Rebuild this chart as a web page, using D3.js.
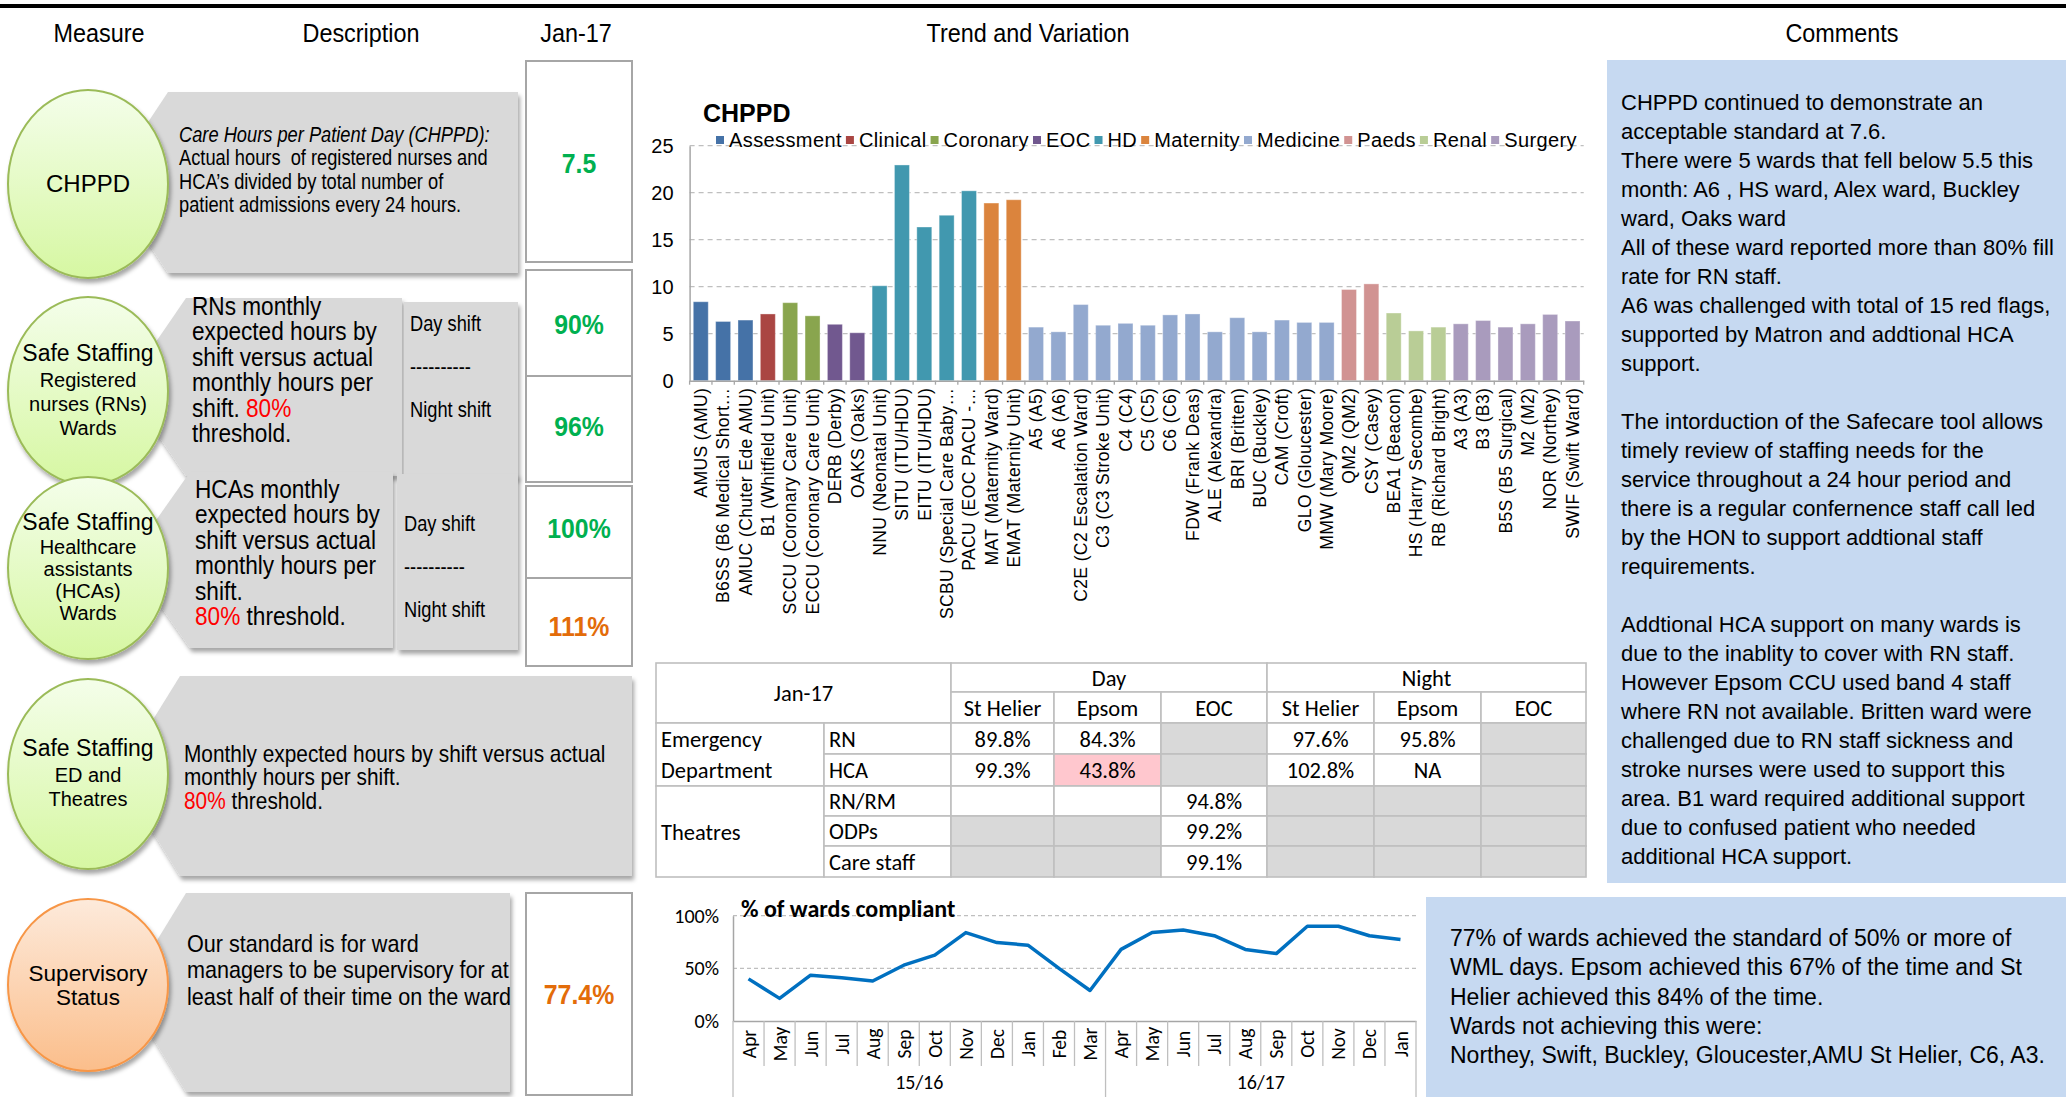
<!DOCTYPE html>
<html><head><meta charset="utf-8">
<script src="https://cdn.jsdelivr.net/npm/d3@7"></script>
<style>body{margin:0;background:#fff}svg{display:block}text{white-space:pre}</style>
</head><body>
<svg id="c" width="2066" height="1097"></svg>
<script>
// ---------------- DATA ----------------
const headerLabels = ["Measure", "Description", "Jan-17", "Trend and Variation", "Comments"];

const groups = ["Assessment","Clinical","Coronary","EOC","HD","Maternity","Medicine","Paeds","Renal","Surgery"];
const groupColors = ["#4572A7","#AA4643","#89A54E","#71588F","#4198AF","#DB843D","#93A9CF","#D19392","#B9CD96","#A99BBD"];
const wards = ["AMUS (AMU)","B6SS (B6 Medical Short…","AMUC (Chuter Ede AMU)","B1 (Whitfield Unit)","SCCU (Coronary Care Unit)","ECCU (Coronary Care Unit)","DERB (Derby)","OAKS (Oaks)","NNU (Neonatal Unit)","SITU (ITU/HDU)","EITU (ITU/HDU)","SCBU (Special Care Baby…","PACU (EOC PACU -…","MAT (Maternity Ward)","EMAT (Maternity Unit)","A5 (A5)","A6 (A6)","C2E (C2 Escalation Ward)","C3 (C3 Stroke Unit)","C4 (C4)","C5 (C5)","C6 (C6)","FDW (Frank Deas)","ALE (Alexandra)","BRI (Britten)","BUC (Buckley)","CAM (Croft)","GLO (Gloucester)","MMW (Mary Moore)","QM2 (QM2)","CSY (Casey)","BEA1 (Beacon)","HS (Harry Secombe)","RB (Richard Bright)","A3 (A3)","B3 (B3)","B5S (B5 Surgical)","M2 (M2)","NOR (Northey)","SWIF (Swift Ward)"];
const wardGroup = ["Assessment","Assessment","Assessment","Clinical","Coronary","Coronary","EOC","EOC","HD","HD","HD","HD","HD","Maternity","Maternity","Medicine","Medicine","Medicine","Medicine","Medicine","Medicine","Medicine","Medicine","Medicine","Medicine","Medicine","Medicine","Medicine","Medicine","Paeds","Paeds","Renal","Renal","Renal","Surgery","Surgery","Surgery","Surgery","Surgery","Surgery"];
const chppd = [8.4,6.3,6.45,7.1,8.3,6.9,6.0,5.1,10.1,22.95,16.35,17.6,20.2,18.9,19.25,5.7,5.2,8.1,5.9,6.1,5.9,7.0,7.1,5.2,6.7,5.2,6.45,6.2,6.2,9.7,10.3,7.2,5.3,5.7,6.05,6.4,5.7,6.05,7.05,6.35];
const chppdTicks = [0,5,10,15,20,25];

const months = ["Apr","May","Jun","Jul","Aug","Sep","Oct","Nov","Dec","Jan","Feb","Mar","Apr","May","Jun","Jul","Aug","Sep","Oct","Nov","Dec","Jan"];
const finYears = ["15/16","16/17"];
const monthsPerYear = [12, 10];
const compliance = [40,21.5,43.5,41,38,53,62.5,84,74.5,72,50,29,68,84,86.5,81,68,64,90,90,81,77.4];
const complianceTicks = [0,50,100];

const tblTitle = "Jan-17";
const shifts = ["Day","Night"];
const sites = ["St Helier","Epsom","EOC"];
const edRoles = ["RN","HCA"];
const edValues = [[89.8,84.3,null,97.6,95.8,null],[99.3,43.8,null,102.8,"NA",null]];
const thRoles = ["RN/RM","ODPs","Care staff"];
const thValues = [["","",94.8,null,null,null],[null,null,99.2,null,null,null],[null,null,99.1,null,null,null]];

const measures = [["CHPPD"],["Safe Staffing","Registered","nurses (RNs)","Wards"],["Safe Staffing","Healthcare","assistants","(HCAs)","Wards"],["Safe Staffing","ED and","Theatres"],["Supervisory","Status"]];
const descChppd = [[["Care Hours per Patient Day (CHPPD):",0,1]],[["Actual hours  of registered nurses and"]],[["HCA’s divided by total number of"]],[["patient admissions every 24 hours."]]];
const descRN = [[["RNs monthly"]],[["expected hours by"]],[["shift versus actual"]],[["monthly hours per"]],[["shift. "],["80%",1]],[["threshold."]]];
const descHCA = [[["HCAs monthly"]],[["expected hours by"]],[["shift versus actual"]],[["monthly hours per"]],[["shift."]],[["80%",1],[" threshold."]]];
const descED = [[["Monthly expected hours by shift versus actual"]],[["monthly hours per shift."]],[["80%",1],[" threshold."]]];
const descSup = [[["Our standard is for ward"]],[["managers to be supervisory for at"]],[["least half of their time on the ward"]]];
const shiftLabels = ["Day shift","----------","Night shift"];
const kpiValues = ["7.5","90%","96%","100%","111%","77.4%"];
const kpiStatus = ["good","good","good","good","over","over"];

const comment1 = ["CHPPD continued to demonstrate an","acceptable standard at 7.6.","There were 5 wards that fell below 5.5 this","month: A6 , HS ward, Alex ward, Buckley","ward, Oaks ward","All of these ward reported more than 80% fill","rate for RN staff.","A6 was challenged with total of 15 red flags,","supported by Matron and addtional HCA","support.","","The intorduction of the Safecare tool allows","timely review of staffing needs for the","service throughout a 24 hour period and","there is a regular confernence staff call led","by the HON to support addtional staff","requirements.","","Addtional HCA support on many wards is","due to the inablity to cover with RN staff.","However Epsom CCU used band 4 staff","where RN not available. Britten ward were","challenged due to RN staff sickness and","stroke nurses were used to support this","area. B1 ward required additional support","due to confused patient who needed","additional HCA support."];
const comment2 = ["77% of wards achieved the standard of 50% or more of","WML days. Epsom achieved this 67% of the time and St","Helier achieved this 84% of the time.","Wards not achieving this were:","Northey, Swift, Buckley, Gloucester,AMU St Helier, C6, A3."];

// ---------------- DRAWING ----------------
const ARIAL = "'Liberation Sans',Arial,Helvetica,sans-serif";
const CAL = "Carlito,Lato,sans-serif";
const svg = d3.select("#c");
svg.append("rect").attr("width",2066).attr("height",1097).attr("fill","#fff");

const defs = svg.append("defs");
const f = defs.append("filter").attr("id","shadow").attr("x","-10%").attr("y","-10%").attr("width","130%").attr("height","130%");
f.append("feDropShadow").attr("dx",2).attr("dy",4).attr("stdDeviation",2.2).attr("flood-color","#000").attr("flood-opacity",0.35);
function grad(id,c1,c2){const g=defs.append("linearGradient").attr("id",id).attr("x1",0).attr("y1",0).attr("x2",0).attr("y2",1);
  g.append("stop").attr("offset","0%").attr("stop-color",c1);g.append("stop").attr("offset","100%").attr("stop-color",c2);}
grad("gGreen","#F4FEEA","#D6F7A2");
grad("gOrange","#FDEADB","#FBBE8B");

// helpers: condensed text = Arial scaled horizontally (Arial Narrow look)
function lines(g, data, x, y0, dy, size, sx, anchor){
  const w = g.append("g").attr("transform",`translate(${x},0) scale(${sx||1},1)`);
  const t = w.append("text").attr("font-family",ARIAL).attr("font-size",size).attr("text-anchor",anchor||"start");
  data.forEach((ln,i)=>{
    ln.forEach((seg,j)=>{
      const ts = t.append("tspan").text(seg[0]);
      if(j===0) ts.attr("x",0).attr("y",y0+i*dy);
      if(seg[1]) ts.attr("fill","#FF0000");
      if(seg[2]) ts.attr("font-style","italic");
    });
  });
  return t;
}

// header
svg.append("rect").attr("x",0).attr("y",4).attr("width",2066).attr("height",4).attr("fill","#000");
const headerX = [99, 361, 576, 1028, 1842];
headerLabels.forEach((h,i)=>lines(svg,[[[h]]],headerX[i],42,0,26,0.9,"middle"));

function chevron(g, xp, xl, xr, yt, yb){
  g.append("path").attr("d",`M${xl},${yt}L${xr},${yt}L${xr},${yb}L${xl},${yb}L${xp},${(yt+yb)/2}Z`)
   .attr("fill","#D9D9D9").attr("filter","url(#shadow)");
}
function rectBox(g,x0,x1,y0,y1){
  g.append("rect").attr("x",x0).attr("y",y0).attr("width",x1-x0).attr("height",y1-y0).attr("fill","#D9D9D9").attr("filter","url(#shadow)");
}
function circle(g, cy, ry, labels, orange){
  g.append("ellipse").attr("cx",88).attr("cy",cy).attr("rx",80).attr("ry",ry)
   .attr("fill",orange?"url(#gOrange)":"url(#gGreen)").attr("stroke",orange?"#F79646":"#9BBB59").attr("stroke-width",2).attr("filter","url(#shadow)");
  const n = labels.length;
  const t = g.append("text").attr("font-family",ARIAL).attr("text-anchor","middle");
  labels.forEach((l,i)=>{
    const big = (i===0);
    const size = n===1?24 : (n===2?22.5 : (big?23:20));
    const yy = n===1 ? cy+8 : (n===2 ? cy + (i-0.5)*24 + 8 : cy + (i-(n-1)/2)*(n>4?22:24)+8 - (i===0?2:0));
    t.append("tspan").attr("x",88).attr("y",yy).attr("font-size",size).text(l);
  });
}
function valBox(g,x0,x1,y0,y1){
  g.append("rect").attr("x",x0).attr("y",y0).attr("width",x1-x0).attr("height",y1-y0).attr("fill","#fff").attr("stroke","#A6A6A6").attr("stroke-width",2);
}
function valText(g,i,x,y){
  g.append("g").attr("transform",`translate(${x},0) scale(0.92,1)`).append("text").attr("x",0).attr("y",y).attr("text-anchor","middle")
   .attr("font-family",ARIAL).attr("font-weight","bold")
   .attr("font-size",27).attr("fill",kpiStatus[i]==="good"?"#00B050":"#E36C09").text(kpiValues[i]);
}
const L = svg.append("g");
// Row 1 CHPPD
chevron(L,108,168,518,92,273);
circle(L,184,94,measures[0]);
lines(L,descChppd,179,142,23.5,21.5,0.85);
valBox(L,526,632,61,262); valText(L,0,579,173);
// Row 2 RN
chevron(L,125,186,402,298,476);
rectBox(L,404,518,302,478);
circle(L,391,94,measures[1]);
lines(L,descRN,192,315,25.5,25,0.905);
lines(L,shiftLabels.map(s=>[[s]]),410,331,43,21.5,0.85);
valBox(L,526,632,270,376); valBox(L,526,632,376,482);
valText(L,1,579,334); valText(L,2,579,436);
// Row 3 HCA
chevron(L,128,190,393,472,648);
rectBox(L,397,518,474,650);
circle(L,568,91,measures[2]);
lines(L,descHCA,195,498,25.5,25,0.905);
lines(L,shiftLabels.map(s=>[[s]]),404,531,43,21.5,0.85);
valBox(L,526,632,486,578); valBox(L,526,632,578,666);
valText(L,3,579,538); valText(L,4,579,636);
// Row 4 ED
chevron(L,118,180,632,676,876);
circle(L,774,95,measures[3]);
lines(L,descED,184,762,23.5,23,0.906);
// Row 5 Supervisory
chevron(L,125,186,510,893,1092);
circle(L,985,86,measures[4],true);
lines(L,descSup,187,952,26.5,24,0.9);
valBox(L,526,632,893,1095); valText(L,5,579,1004);

// ---------------- BAR CHART ----------------
const B = svg.append("g");
const x = d3.scaleBand().domain(wards).range([689.6,1583.7]).paddingInner(0.33).paddingOuter(0.165);
const y = d3.scaleLinear().domain([0,25]).range([380.7,145.7]);
const color = d3.scaleOrdinal().domain(groups).range(groupColors);
B.selectAll("line.grid").data(chppdTicks.filter(t=>t>0)).join("line").attr("class","grid")
  .attr("x1",689.6).attr("x2",1583.7).attr("y1",d=>y(d)).attr("y2",d=>y(d))
  .attr("stroke","#BFBFBF").attr("stroke-width",1.3).attr("stroke-dasharray","5,4");
const yAx = B.append("g").attr("transform","translate(689.6,0)").call(d3.axisLeft(y).tickValues(chppdTicks).tickSize(0).tickPadding(16));
yAx.select(".domain").attr("stroke","#A6A6A6").attr("stroke-width",1.5);
yAx.selectAll("text").attr("font-family",ARIAL).attr("font-size",20).attr("fill","#000");
B.selectAll("rect.bar").data(chppd).join("rect").attr("class","bar")
  .attr("x",(d,i)=>x(wards[i])).attr("width",x.bandwidth()).attr("y",d=>y(d)).attr("height",d=>y(0)-y(d))
  .attr("fill",(d,i)=>color(wardGroup[i])).attr("stroke","#fff").attr("stroke-opacity",0.35).attr("stroke-width",1);
const xAx = B.append("g").attr("transform",`translate(0,${y(0)})`).call(d3.axisBottom(x).tickSize(0).tickPadding(0));
xAx.select(".domain").attr("stroke","#A6A6A6").attr("stroke-width",1.5);
xAx.selectAll("text").attr("font-family",ARIAL).attr("font-size",17.5).attr("letter-spacing",0.4).attr("fill","#000")
  .attr("transform","rotate(-90)").attr("text-anchor","end").attr("x",-7).attr("y",0).attr("dy","0.36em");
B.selectAll("line.btick").data(d3.range(wards.length+1)).join("line").attr("class","btick")
  .attr("x1",i=>x.range()[0]+i*x.step()).attr("x2",i=>x.range()[0]+i*x.step())
  .attr("y1",y(0)).attr("y2",y(0)+4).attr("stroke","#A6A6A6").attr("stroke-width",1.3);
B.append("text").attr("x",703).attr("y",122).attr("font-family",ARIAL).attr("font-weight","bold").attr("font-size",25).text("CHPPD");
// legend
const lg = B.append("g");
let lx0 = 716; const items=[];
groups.forEach((gname,i)=>{
  const it = lg.append("g");
  it.append("rect").attr("y",136).attr("width",8).attr("height",8).attr("fill",groupColors[i]);
  const tx = it.append("text").attr("x",13).attr("y",147).attr("font-family",ARIAL).attr("font-size",20).attr("letter-spacing",0.4).text(gname);
  items.push({it, w: 13 + tx.node().getComputedTextLength()});
});
const totalW = d3.sum(items,d=>d.w); const gap = (1577-716-totalW)/(items.length-1);
items.forEach(d=>{ d.it.attr("transform",`translate(${lx0},0)`); lx0 += d.w + gap; });

// ---------------- TABLE ----------------
const T = svg.append("g");
const cx = [656,824,951,1054,1161,1267,1374,1481,1586];
const ry = [663,692,723,754,786,816,846,877];
const cells = [];
cells.push({r0:0,r1:2,c0:0,c1:2,t:tblTitle,a:"middle"});
shifts.forEach((s,i)=>cells.push({r0:0,r1:1,c0:2+i*3,c1:5+i*3,t:s,a:"middle"}));
shifts.forEach((s,i)=>sites.forEach((st,j)=>cells.push({r0:1,r1:2,c0:2+i*3+j,c1:3+i*3+j,t:st,a:"middle"})));
cells.push({r0:2,r1:4,c0:0,c1:1,t:["Emergency","Department"],a:"start"});
edRoles.forEach((r,i)=>{
  cells.push({r0:2+i,r1:3+i,c0:1,c1:2,t:r,a:"start"});
  edValues[i].forEach((v,j)=>cells.push({r0:2+i,r1:3+i,c0:2+j,c1:3+j,t:v===null?"":(typeof v==="number"?v.toFixed(1)+"%":v),a:"middle",
    fill: v===null?"#D9D9D9":(typeof v==="number"&&v<80?"#FFC7CE":"#fff")}));
});
cells.push({r0:4,r1:7,c0:0,c1:1,t:"Theatres",a:"start"});
thRoles.forEach((r,i)=>{
  cells.push({r0:4+i,r1:5+i,c0:1,c1:2,t:r,a:"start"});
  thValues[i].forEach((v,j)=>cells.push({r0:4+i,r1:5+i,c0:2+j,c1:3+j,t:v===null||v===""?"":v.toFixed(1)+"%",a:"middle",fill:v===null?"#D9D9D9":"#fff"}));
});
cells.forEach(c=>{
  const x0=cx[c.c0],x1=cx[c.c1],y0=ry[c.r0],y1=ry[c.r1];
  T.append("rect").attr("x",x0).attr("y",y0).attr("width",x1-x0).attr("height",y1-y0).attr("fill",c.fill||"#fff")
   .attr("stroke","#BFBFBF").attr("stroke-width",1.6);
  const tx = c.a==="middle"?(x0+x1)/2:x0+5;
  if(Array.isArray(c.t)){
    c.t.forEach((s,k)=>T.append("text").attr("x",tx).attr("y",ry[c.r0+k]+(ry[c.r0+k+1]-ry[c.r0+k])/2+8).attr("font-family",CAL).attr("font-size",22.5).text(s));
  } else if(c.t!==""){
    T.append("text").attr("x",tx).attr("y",(y0+y1)/2+8).attr("text-anchor",c.a).attr("font-family",CAL).attr("font-size",22.5).text(c.t);
  }
});

// ---------------- LINE CHART ----------------
const Lc = svg.append("g");
const mx = d3.scaleBand().domain(d3.range(months.length)).range([733,1416]);
const my = d3.scaleLinear().domain([0,100]).range([1021,915.7]);
Lc.selectAll("line.lg").data(complianceTicks.filter(t=>t>0)).join("line").attr("class","lg")
  .attr("x1",733).attr("x2",1416).attr("y1",d=>my(d)).attr("y2",d=>my(d)).attr("stroke","#BFBFBF").attr("stroke-width",1.3).attr("stroke-dasharray","4,3");
const myAx = Lc.append("g").attr("transform","translate(733,0)").call(d3.axisLeft(my).tickValues(complianceTicks).tickFormat(d=>d+"%").tickSize(0).tickPadding(14));
myAx.select(".domain").attr("stroke","#A6A6A6").attr("stroke-width",1.5);
myAx.selectAll("text").attr("font-family",CAL).attr("font-size",20).attr("fill","#000");
const mxAx = Lc.append("g").attr("transform","translate(0,1021)").call(d3.axisBottom(mx).tickFormat(i=>months[i]).tickSize(0).tickPadding(0));
mxAx.select(".domain").attr("stroke","#A6A6A6").attr("stroke-width",1.5);
mxAx.selectAll("text").attr("font-family",CAL).attr("font-size",19.5).attr("fill","#000")
  .attr("transform","rotate(-90)").attr("text-anchor","middle").attr("x",-23).attr("y",0).attr("dy","0.36em");
let acc=0; const grpBounds=[0];
monthsPerYear.forEach(n=>{acc+=n;grpBounds.push(acc);});
Lc.selectAll("line.ms").data(d3.range(months.length+1)).join("line").attr("class","ms")
  .attr("x1",i=>mx.range()[0]+i*mx.step()).attr("x2",i=>mx.range()[0]+i*mx.step())
  .attr("y1",1021).attr("y2",i=>grpBounds.includes(i)?1097:1066).attr("stroke","#BFBFBF").attr("stroke-width",1.3);
Lc.selectAll("text.fy").data(finYears).join("text").attr("class","fy")
  .attr("x",(d,i)=>mx.range()[0]+(grpBounds[i]+grpBounds[i+1])/2*mx.step()).attr("y",1089).attr("text-anchor","middle")
  .attr("font-family",CAL).attr("font-size",20).text(d=>d);
Lc.append("path").datum(compliance).attr("fill","none").attr("stroke","#0070C0").attr("stroke-width",3.5).attr("stroke-linejoin","round")
  .attr("d",d3.line().x((d,i)=>mx(i)+mx.bandwidth()/2).y(d=>my(d)));
Lc.append("text").attr("x",741).attr("y",917).attr("font-family",CAL).attr("font-weight","bold").attr("font-size",24).text("% of wards compliant");

// ---------------- COMMENTS ----------------
const C = svg.append("g");
C.append("rect").attr("x",1607).attr("y",60).attr("width",459).attr("height",823).attr("fill","#C6D9F1");
lines(C,comment1.map(s=>[[s]]),1621,110,29,22,1);
C.append("rect").attr("x",1426).attr("y",897).attr("width",640).attr("height",200).attr("fill","#C6D9F1");
lines(C,comment2.map(s=>[[s]]),1450,946,29.3,23,1);
</script>
</body></html>
